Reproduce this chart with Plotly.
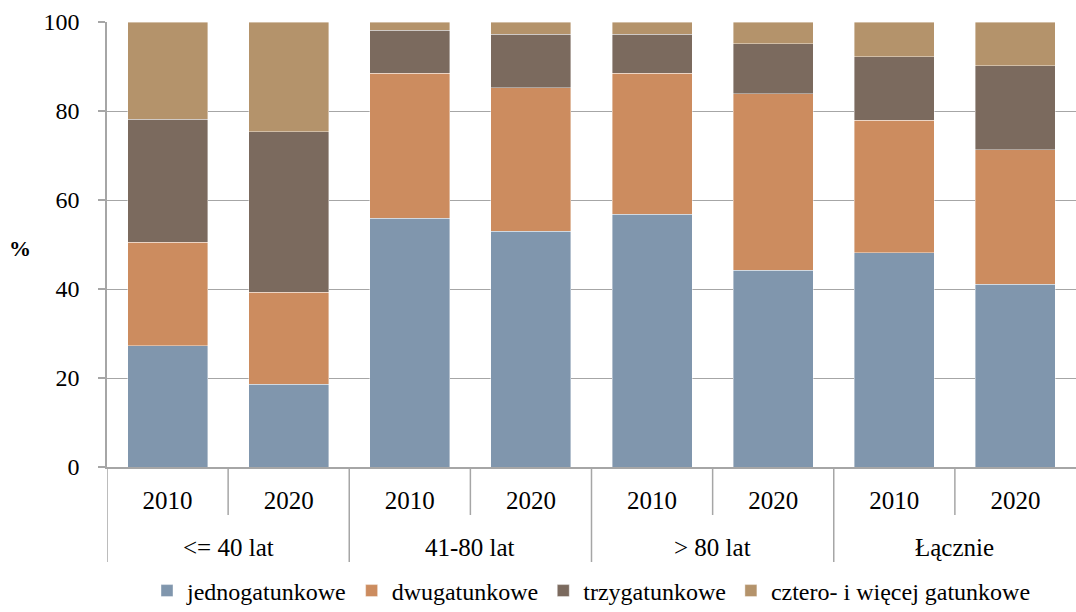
import plotly.graph_objects as go

group_names = ["<= 40 lat", "41-80 lat", "> 80 lat", "Łącznie"]
years = ["2010", "2020", "2010", "2020", "2010", "2020", "2010", "2020"]
cat_ids = ["g1_2010", "g1_2020", "g2_2010", "g2_2020", "g3_2010", "g3_2020", "g4_2010", "g4_2020"]

series_names = ["jednogatunkowe", "dwugatunkowe", "trzygatunkowe", "cztero- i więcej gatunkowe"]
jedno = [27.3, 18.6, 55.9, 53.0, 56.8, 44.2, 48.1, 41.1]
dwu = [23.2, 20.7, 32.6, 32.2, 31.7, 39.7, 29.8, 30.2]
trzy = [27.7, 36.0, 9.6, 12.0, 8.7, 11.2, 14.3, 18.9]
cztero = [21.8, 24.7, 1.9, 2.8, 2.8, 4.9, 7.8, 9.8]
colors = ["#8096ad", "#cc8c5f", "#7b6a5e", "#b4936b"]

FF = "Liberation Serif"
LC = "#a6a6a6"

fig = go.Figure()
for name, vals, col in zip(series_names, [jedno, dwu, trzy, cztero], colors):
    fig.add_trace(go.Bar(
        x=cat_ids, y=vals, name=name,
        marker=dict(color=col, line=dict(color="rgba(255,255,255,0.5)", width=0.8)),
    ))

PLOT_H = 612 - 22 - 145
def py(px):  # pixel below plot bottom -> paper y
    return -(px - 467) / PLOT_H

shapes = []
# group dividers (full height)
for xb in [-0.5, 1.5, 3.5, 5.5]:
    shapes.append(dict(type="line", xref="x", yref="paper", x0=xb, x1=xb, y0=0, y1=py(562),
                       line=dict(color=LC, width=1.5)))
# inner dividers (year row)
for xb in [0.5, 2.5, 4.5, 6.5]:
    shapes.append(dict(type="line", xref="x", yref="paper", x0=xb, x1=xb, y0=0, y1=py(515),
                       line=dict(color=LC, width=1.5)))

annotations = [dict(text="<b>%</b>", x=-0.09, xanchor="center", xref="paper", y=49, yref="y",
                    showarrow=False, font=dict(family=FF, size=22, color="#000000"))]
for i, g in enumerate(group_names):
    annotations.append(dict(text=g, x=2 * i + 0.5, xref="x", y=py(547), yref="paper",
                            xanchor="center", yanchor="middle", showarrow=False,
                            font=dict(family=FF, size=25, color="#000000")))

fig.update_layout(
    barmode="stack",
    bargap=0.34,
    width=1076, height=612,
    margin=dict(l=107, r=0, t=22, b=145, autoexpand=False),
    plot_bgcolor="white", paper_bgcolor="white",
    font=dict(family=FF, size=25, color="#000000"),
    legend=dict(orientation="h", x=0.5, xanchor="center", y=py(591), yanchor="middle",
                traceorder="normal", itemwidth=30,
                font=dict(family=FF, size=24, color="#000000")),
    shapes=shapes,
    annotations=annotations,
)

fig.update_yaxes(range=[0, 100], dtick=20, showgrid=True, gridcolor=LC, gridwidth=1,
                 showline=True, linecolor=LC, linewidth=1.5,
                 ticks="outside", ticklen=7, tickcolor=LC, tickwidth=1.5,
                 ticklabelstandoff=14, zeroline=False, automargin=False,
                 tickfont=dict(family=FF, size=24, color="#000000"))
fig.update_xaxes(range=[-0.5, 7.5], showline=True, linecolor=LC, linewidth=1.5, automargin=False,
                 tickmode="array", tickvals=cat_ids, ticktext=years, ticks="",
                 ticklabelstandoff=10,
                 tickfont=dict(family=FF, size=25, color="#000000"))

fig.write_html("out.html")
